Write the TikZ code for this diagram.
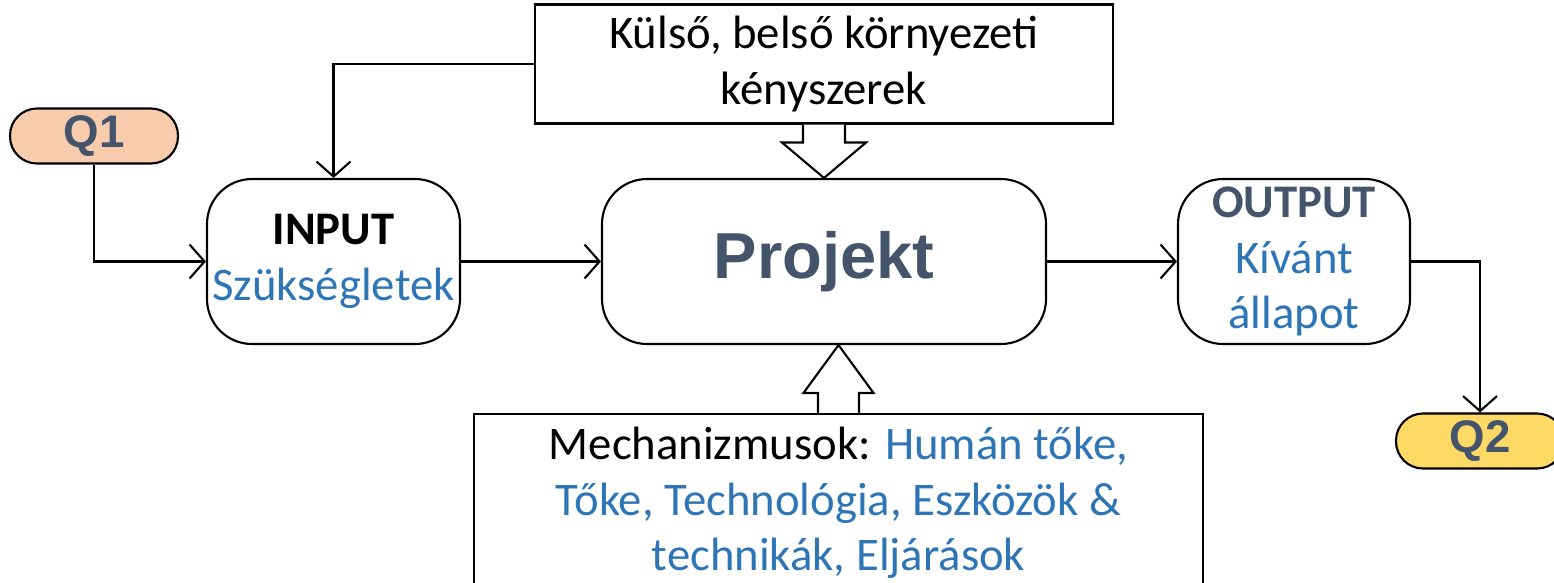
\documentclass[tikz,border=0pt]{standalone}
\usepackage{fontspec}
\setmainfont{Carlito}
\newfontfamily\arialfont{Liberation Sans}
\usepackage{xcolor}
\usetikzlibrary{arrows.meta}
\usetikzlibrary{calc}
\definecolor{txtblue}{HTML}{2E75B6}
\definecolor{slate}{HTML}{44546A}
\definecolor{qpeach}{HTML}{F8CBAD}
\definecolor{qyellow}{HTML}{FFD966}

\begin{document}
\begin{tikzpicture}
\tikzset{>={Straight Barb[length=1.5mm,width=3.4mm]}}
\tikzstyle{roundbox}=[draw,rounded corners=0.45cm,line width=0.6pt,align=center,inner sep=0pt,minimum height=1.65cm,font=\fontsize{13.3}{15.9}\selectfont]
\tikzstyle{qpill}=[draw,rounded corners=0.27cm,line width=0.6pt,inner sep=0pt,minimum width=1.68cm,minimum height=0.55cm,font=\arialfont\bfseries\fontsize{13}{15}\selectfont,text=slate]
\tikzstyle{plainbox}=[draw,line width=0.6pt,align=center,font=\fontsize{13.3}{15.8}\selectfont]
\tikzstyle{conn}=[->,line width=0.6pt]

\useasboundingbox (0,0) rectangle (15.54,5.82);

\node[qpill,fill=qpeach](q1) at (0.94,4.46){Q1};
\node[roundbox,minimum width=2.53cm](inp) at (3.335,3.205){\textbf{INPUT}\\{\color{txtblue}Szükségletek}};
\node[roundbox,minimum width=4.44cm,font=\arialfont\bfseries\fontsize{18.5}{22}\selectfont,text=slate](proj) at (8.24,3.205){Projekt};
\node[roundbox,minimum width=2.32cm](outp) at (12.94,3.205){{\color{slate}\textbf{OUTPUT}}\\{\color{txtblue}Kívánt}\\{\color{txtblue}állapot}};
\node[qpill,fill=qyellow](q2) at (14.80,1.41){Q2};
\node[plainbox,minimum width=5.78cm,minimum height=1.08cm](env) at (8.24,5.18){Külső, belső környezeti\\kényszerek};
\node[plainbox,minimum width=7.29cm,minimum height=1.78cm,text=txtblue](mech) at (8.385,0.79){\textcolor{black}{Mechanizmusok:} Humán tőke,\\Tőke, Technológia, Eszközök \&\\technikák, Eljárások};

\draw[conn] (q1.south) |- (inp.west);
\draw[conn] (env.west) -| (inp.north);
\draw[conn] (inp.east) -- (proj.west);
\draw[conn] (proj.east) -- (outp.west);
\draw[conn] (outp.east) -| (q2.north);

% hollow block arrows
\draw[line width=0.6pt,fill=white] ($(env.south)+(-0.21,0)$) -- ++(0,-0.18) -- ++(-0.21,0)
  -- (proj.north) -- ($(env.south)+(0.42,-0.18)$) -- ++(-0.21,0) -- ++(0,0.18);
\draw[line width=0.6pt,fill=white] ($(mech.north)+(-0.205,0)$) -- ++(0,0.20) -- ++(-0.145,0)
  -- (mech.north |- proj.south) -- ($(mech.north)+(0.35,0.20)$) -- ++(-0.145,0) -- ++(0,-0.20);
\end{tikzpicture}
\end{document}
